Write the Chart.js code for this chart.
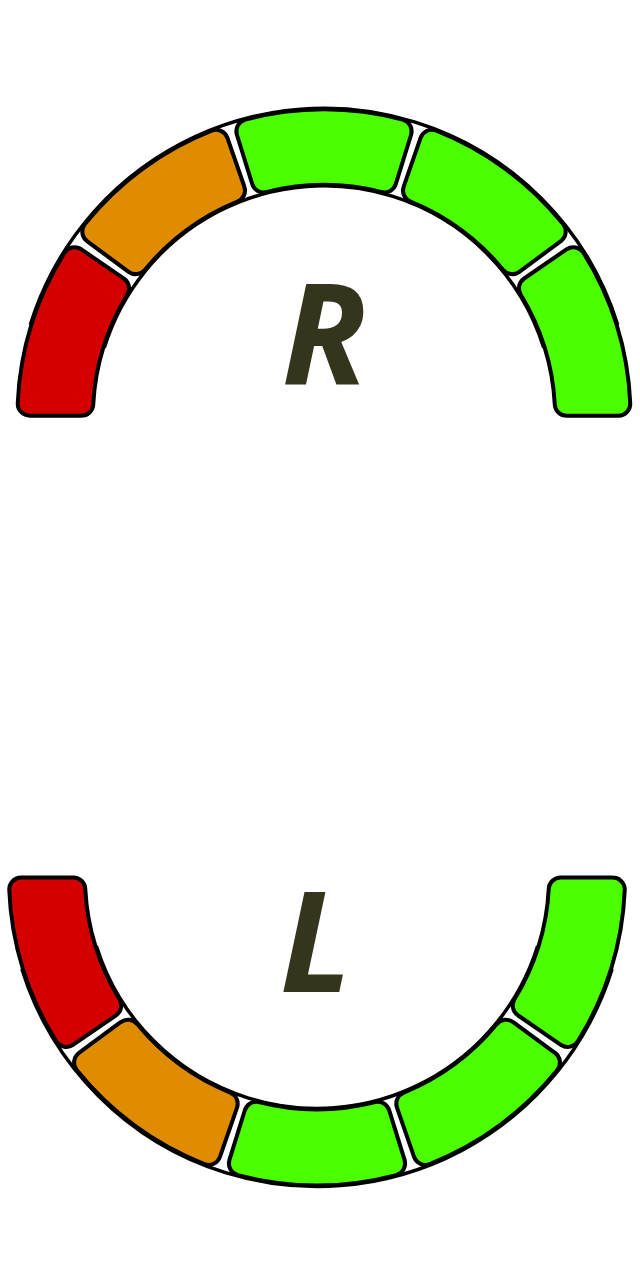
<!DOCTYPE html>
<html>
<head>
<meta charset="utf-8">
<script src="https://cdn.jsdelivr.net/npm/chart.js@4"></script>
<style>
  html, body { margin: 0; padding: 0; background: #fff; }
  #page { position: relative; width: 640px; height: 1280px; overflow: hidden; }
  canvas { position: absolute; left: 0; }
  #topGauge { top: 0; }
  #bottomGauge { top: 776px; }
  .side {
    position: absolute; width: 200px; text-align: center;
    font-family: "Open Sans", sans-serif; font-weight: 700; font-style: italic;
    font-size: 140px; line-height: 1; color: #35341c;
  }
  #sideR { left: 224px; top: 260px; }
  #sideL { left: 216px; top: 868px; }
</style>
</head>
<body>
<div id="page">
  <canvas id="topGauge" width="640" height="544"></canvas>
  <canvas id="bottomGauge" width="640" height="492"></canvas>
  <div class="side" id="sideR">R</div>
  <div class="side" id="sideL">L</div>
</div>
<script>
// five equal zones, listed from the low end to the high end
const zoneLabels = ['Zone 1', 'Zone 2', 'Zone 3', 'Zone 4', 'Zone 5'];
const zoneValues = [1, 1, 1, 1, 1];
const zoneColors = ['#d40000', '#e08c00', '#4cff00', '#4cff00', '#4cff00'];

// the lower gauge runs clockwise from the right, so its zones are reversed
const bottomLabels = zoneLabels.slice().reverse();
const bottomValues = zoneValues.slice().reverse();
const bottomColors = zoneColors.slice().reverse();

// white band with a black rim behind the segments (only between the outer segments' middles)
const ringOutline = {
    id: 'ringOutline',
    beforeDatasetsDraw(chart) {
        const arcs = chart.getDatasetMeta(0).data;
        if (!arcs.length) return;
        const first = arcs[0];
        const last = arcs[arcs.length - 1];
        const pad = chart.options.ringPad || 0;
        const spacing = (chart.data.datasets[0].spacing || 0) / 2;
        const rOut = first.outerRadius + spacing + pad;
        const rIn = first.innerRadius + spacing - pad;
        const a0 = (first.startAngle + first.endAngle) / 2;
        const a1 = (last.startAngle + last.endAngle) / 2;
        const ctx = chart.ctx;
        ctx.save();
        ctx.beginPath();
        ctx.arc(first.x, first.y, rOut, a0, a1);
        ctx.arc(first.x, first.y, rIn, a1, a0, true);
        ctx.closePath();
        ctx.fillStyle = '#ffffff';
        ctx.fill();
        ctx.lineWidth = 3.5;
        ctx.strokeStyle = '#000000';
        ctx.beginPath();
        ctx.arc(first.x, first.y, rOut, a0, a1);
        ctx.stroke();
        ctx.beginPath();
        ctx.arc(first.x, first.y, rIn, a0, a1);
        ctx.stroke();
        ctx.restore();
    }
};

function makeGauge(canvasId, labels, values, colors, rotation, radius, cutout, padding) {
    const ctx = document.getElementById(canvasId).getContext('2d');
    return new Chart(ctx, {
        type: 'doughnut',
        data: {
            labels: labels,
            datasets: [{
                data: values,
                backgroundColor: colors,
                borderColor: '#000000',
                borderWidth: 4,
                borderRadius: 12,
                spacing: 28
            }]
        },
        options: {
            responsive: false,
            animation: false,
            events: [],
            // a little over a half circle so the spacing does not lift the end segments
            rotation: rotation - 0.95,
            circumference: 181.9,
            radius: radius,
            cutout: cutout,
            ringPad: 1,
            layout: { padding: padding },
            plugins: {
                legend: { display: false },
                tooltip: { enabled: false }
            }
        },
        plugins: [ringOutline]
    });
}

makeGauge('topGauge', zoneLabels, zoneValues, zoneColors, -90, 292.5, '74.2%', { left: 8 });
makeGauge('bottomGauge', bottomLabels, bottomValues, bottomColors, 90, 294, '74.15%', { right: 6 });
</script>
</body>
</html>
